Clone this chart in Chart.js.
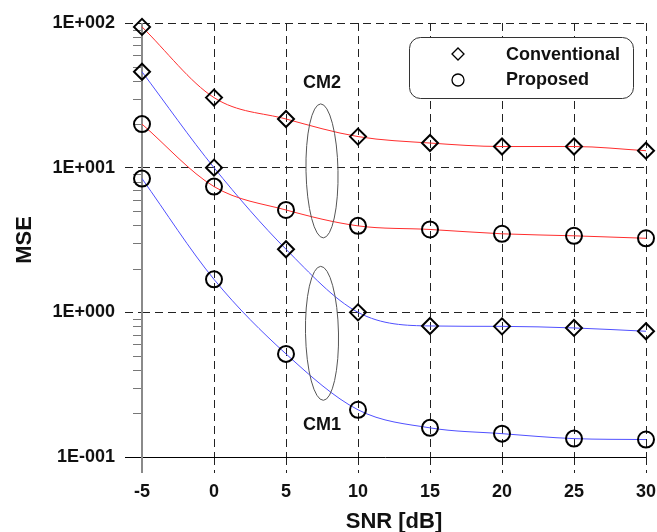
<!DOCTYPE html>
<html>
<head>
<meta charset="utf-8">
<script src="https://cdn.jsdelivr.net/npm/chart.js@4"></script>
<style>
  body { margin: 0; background: #fff; }
  #wrap { width: 657px; height: 532px; }
</style>
</head>
<body>
<div id="wrap"><canvas id="myChart" width="657" height="532"></canvas></div>
<script>
// values (MSE vs SNR)
var snr = [-5, 0, 5, 10, 15, 20, 25, 30];
var cm2Conventional = [94, 30.5, 21.7, 16.4, 14.8, 14.0, 14.0, 13.1];
var cm2Proposed = [20.0, 7.4, 5.1, 3.96, 3.74, 3.49, 3.38, 3.25];
var cm1Conventional = [46, 10.0, 2.73, 1.0, 0.805, 0.80, 0.78, 0.74];
var cm1Proposed = [8.4, 1.69, 0.516, 0.212, 0.159, 0.145, 0.134, 0.132];
var yTickValues = [0.1, 1, 10, 100];
var yTickLabels = ['1E-001', '1E+000', '1E+001', '1E+002'];
var legendLabels = ['Conventional', 'Proposed'];

var FONT = '"Liberation Sans", Arial, sans-serif';
var RED = 'rgb(255,45,45)';
var BLUE = 'rgb(80,80,255)';
var DASH = [8, 5];

function pts(arr) {
    return snr.map(function (x, i) { return { x: x, y: arr[i] }; });
}

function series(label, arr, color, style) {
    return {
        label: label,
        data: pts(arr),
        borderColor: color,
        borderWidth: 1,
        cubicInterpolationMode: 'monotone',
        pointStyle: style,
        pointRadius: 8,
        pointHoverRadius: 8,
        pointBorderColor: '#000',
        pointBorderWidth: 2,
        pointBackgroundColor: 'rgba(0,0,0,0)',
        clip: false
    };
}

var decor = {
    id: 'decor',
    beforeDatasetsDraw: function (chart) {
        var c = chart.ctx, xs = chart.scales.x, ys = chart.scales.y;
        var x0 = xs.getPixelForValue(-5), x1 = xs.getPixelForValue(30);
        var yb = ys.getPixelForValue(0.1), yt = ys.getPixelForValue(100);
        c.save();
        // minor ticks on the y axis
        c.strokeStyle = '#777';
        c.lineWidth = 1;
        [0.1, 1, 10].forEach(function (d) {
            for (var k = 2; k <= 9; k++) {
                var y = Math.round(ys.getPixelForValue(d * k)) + 0.5;
                c.beginPath();
                c.moveTo(x0 - 9, y);
                c.lineTo(x0, y);
                c.stroke();
            }
        });
        // x axis line (solid)
        c.strokeStyle = '#000';
        c.beginPath();
        c.moveTo(x0 - 17, Math.round(yb) + 0.5);
        c.lineTo(x1, Math.round(yb) + 0.5);
        c.stroke();
        // y axis line (grey)
        c.strokeStyle = '#8a8a8a';
        c.lineWidth = 2;
        c.beginPath();
        c.moveTo(x0, yt);
        c.lineTo(x0, yb + 16);
        c.stroke();
        c.restore();
    },
    afterDatasetsDraw: function (chart) {
        var c = chart.ctx, xs = chart.scales.x, ys = chart.scales.y;
        c.save();
        // group ellipses
        c.strokeStyle = '#555';
        c.lineWidth = 1;
        c.beginPath();
        c.ellipse(xs.getPixelForValue(7.5), ys.getPixelForValue(9.5), 16, 67, -0.02, 0, Math.PI * 2);
        c.stroke();
        c.beginPath();
        c.ellipse(xs.getPixelForValue(7.5), ys.getPixelForValue(0.716), 16.5, 67, -0.02, 0, Math.PI * 2);
        c.stroke();
        // group labels
        c.fillStyle = '#111';
        c.font = 'bold 18px ' + FONT;
        c.textAlign = 'center';
        c.textBaseline = 'middle';
        c.fillText('CM2', xs.getPixelForValue(7.5), ys.getPixelForValue(38.6));
        c.fillText('CM1', xs.getPixelForValue(7.5), ys.getPixelForValue(0.166));

        // legend box
        var lx = 409, ly = 37, lw = 224, lh = 61;
        c.beginPath();
        c.roundRect(lx + 0.5, ly + 0.5, lw, lh, 11);
        c.fillStyle = '#fff';
        c.fill();
        c.strokeStyle = '#333';
        c.stroke();
        c.strokeStyle = '#000';
        c.lineWidth = 1.3;
        c.beginPath();
        c.moveTo(452, 54); c.lineTo(458, 48); c.lineTo(464, 54); c.lineTo(458, 60); c.closePath();
        c.stroke();
        c.beginPath();
        c.arc(458, 80, 6, 0, Math.PI * 2);
        c.stroke();
        c.fillStyle = '#111';
        c.textAlign = 'left';
        c.fillText(legendLabels[0], 506, 55);
        c.fillText(legendLabels[1], 506, 80);
        c.restore();
    }
};

var ctx = document.getElementById('myChart');
var myChart = new Chart(ctx, {
    type: 'line',
    data: {
        datasets: [
            series('CM2 Conventional', cm2Conventional, RED, 'rectRot'),
            series('CM2 Proposed', cm2Proposed, RED, 'circle'),
            series('CM1 Conventional', cm1Conventional, BLUE, 'rectRot'),
            series('CM1 Proposed', cm1Proposed, BLUE, 'circle')
        ]
    },
    options: {
        responsive: false,
        animation: false,
        events: [],
        layout: { padding: { top: 23, right: 11, left: 0, bottom: 0 } },
        plugins: { legend: { display: false }, tooltip: { enabled: false } },
        scales: {
            x: {
                type: 'linear',
                min: -5,
                max: 30,
                afterFit: function (s) { s.height = 75; s.paddingRight = 0; s.paddingLeft = 0; },
                ticks: {
                    stepSize: 5,
                    color: '#111',
                    padding: 8,
                    font: { family: FONT, size: 18, weight: 'bold' }
                },
                grid: {
                    color: function (c) { return c.tick && c.tick.value === -5 ? 'rgba(0,0,0,0)' : '#222'; },
                    tickColor: function (c) { return c.tick && c.tick.value === -5 ? 'rgba(0,0,0,0)' : '#222'; },
                    tickLength: 16,
                    tickBorderDash: DASH
                },
                border: { display: false, dash: DASH },
                title: {
                    display: true,
                    text: 'SNR [dB]',
                    color: '#111',
                    padding: { top: 0, bottom: -3 },
                    font: { family: FONT, size: 22, weight: 'bold' }
                }
            },
            y: {
                type: 'logarithmic',
                min: 0.1,
                max: 100,
                afterFit: function (s) { s.width = 142; s.paddingTop = 0; s.paddingBottom = 0; },
                afterBuildTicks: function (s) {
                    s.ticks = yTickValues.map(function (v) { return { value: v, major: true }; });
                },
                ticks: {
                    color: '#111',
                    padding: 10,
                    font: { family: FONT, size: 18, weight: 'bold' },
                    callback: function (v) {
                        var i = yTickValues.indexOf(v);
                        return i >= 0 ? yTickLabels[i] : '';
                    }
                },
                grid: {
                    color: function (c) { return c.tick && c.tick.value === 0.1 ? 'rgba(0,0,0,0)' : '#222'; },
                    tickColor: function (c) { return c.tick && c.tick.value === 0.1 ? 'rgba(0,0,0,0)' : '#222'; },
                    tickLength: 17,
                    tickBorderDash: DASH
                },
                border: { display: false, dash: DASH },
                title: {
                    display: true,
                    text: 'MSE',
                    color: '#111',
                    padding: { top: 12, bottom: 0 },
                    font: { family: FONT, size: 22, weight: 'bold' }
                }
            }
        }
    },
    plugins: [decor]
});
</script>
</body>
</html>
